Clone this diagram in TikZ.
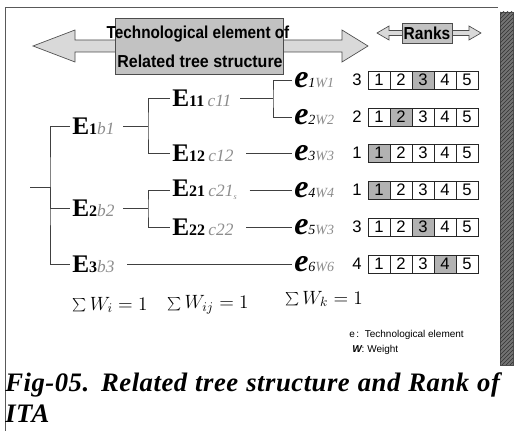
\documentclass[tikz,border=0pt]{standalone}
\usepackage{fontspec}
\setmainfont{Liberation Serif}
\setsansfont{Liberation Sans}
\newfontfamily\capfont[LetterSpace=2]{Liberation Serif}
\usetikzlibrary{patterns}

% font size helper and label pieces
\newcommand\fs[1]{\fontsize{#1}{#1}\selectfont}
\newcommand\Ebig{{\fs{19}\bfseries E}}
\newcommand\Enum[1]{{\fs{12}\bfseries #1}}
\newcommand\ghost[1]{{\color{black!45}\fs{13}\itshape #1}}
\newcommand\Tel[2]{{\fs{24}\bfseries\itshape e}{\fs{10.5}\itshape #1}{\color{black!45}\fs{10.5}\itshape W#2}}

\begin{document}
\begin{tikzpicture}[x=0.75pt,y=-0.75pt,
  treeline/.style={draw=black!75,line width=0.6pt},
  lbl/.style={anchor=west,inner sep=1.5pt},
  cell/.style={draw=black!85,line width=0.6pt,minimum width=16.5pt,
    minimum height=13.5pt,inner sep=0pt,font=\sffamily\fs{12.5}},
  ranknum/.style={font=\sffamily\fs{12.5},inner sep=0pt},
  shaft/.style={draw=black!70,line width=0.5pt,fill=black!15},
  tagbox/.style={draw=black!70,line width=0.5pt,fill=black!24,inner sep=0pt}]

\useasboundingbox (0,0) rectangle (519,431);
\fill[white] (0,0) rectangle (519,431);

% frame and side bar
\draw[black!65,line width=0.6pt] (5,431) -- (5,7) -- (498,7);
\draw[black!70,fill=black!55] (500,12) rectangle (513,365);
\fill[pattern=north east lines,pattern color=black!80] (500,12) rectangle (513,365);

% heading: double arrow with caption box
\draw[shaft] (33,46) -- (75,30) -- (75,40) -- (342,40) -- (342,30) -- (368,46)
  -- (342,62) -- (342,52) -- (75,52) -- (75,62) -- cycle;
\node[tagbox,minimum width=126pt,minimum height=42pt] (ttlbox) at (199,46) {};
\node[inner sep=0pt] (ttl1) at (198,34)
  {\resizebox{137pt}{\height}{\sffamily\bfseries\fs{13}Technological element of}};
\node[inner sep=0pt] (ttl2) at (200,61)
  {\resizebox{124pt}{\height}{\sffamily\bfseries\fs{13}Related tree structure}};

% ranks heading
\draw[shaft] (377,33) -- (389,26) -- (389,30.5) -- (469,30.5) -- (469,26) -- (481,33)
  -- (469,40) -- (469,35.5) -- (389,35.5) -- (389,40) -- cycle;
\node[tagbox,minimum width=37.5pt,minimum height=15pt] (rkbox) at (427,33) {};
\node[inner sep=0pt] (rktxt) at (427,33)
  {\resizebox{35pt}{\height}{\sffamily\bfseries\fs{13}Ranks}};

% tree elements
\node[lbl] (E1) at (70,126) {\Ebig\Enum{1}\ghost{b1}};
\node[lbl] (E2) at (70,208) {\Ebig\Enum{2}\ghost{b2}};
\node[lbl] (E3) at (70,264) {\Ebig\Enum{3}\ghost{b3}};
\node[lbl] (E11) at (170,98.5) {\Ebig\Enum{11}\ \ghost{c11}};
\node[lbl] (E12) at (170,153) {\Ebig\Enum{12}\ \ghost{c12}};
\node[lbl] (E21) at (170,190) {\Ebig\Enum{21}\ \ghost{c21}\raisebox{-2pt}{\color{black!45}\fs{6}\itshape s}};
\node[lbl] (E22) at (170,227) {\Ebig\Enum{22}\ \ghost{c22}};

\node[lbl] (e1) at (292,80) {\Tel{1}{1}};
\node[lbl] (e2) at (292,117) {\Tel{2}{2}};
\node[lbl] (e3) at (292,153) {\Tel{3}{3}};
\node[lbl] (e4) at (292,190) {\Tel{4}{4}};
\node[lbl] (e5) at (292,227) {\Tel{5}{3}};
\node[lbl] (e6) at (292,264) {\Tel{6}{6}};

% junctions
\coordinate (root) at (30,187);
\coordinate (j0) at (50,187);
\coordinate (j1) at (148,126);
\coordinate (j2) at (148,208);
\coordinate (j3) at (273,98.5);

% connectors
\draw[treeline] (root) -- (j0);
\draw[treeline] (E1.west) -| (j0) |- (E3.west);
\draw[treeline] (j0) |- (E2.west);
\draw[treeline,shorten <=5pt] (E1.east) -- (j1);
\draw[treeline] (E11.west) -| (j1) |- (E12.west);
\draw[treeline,shorten <=5pt] (E2.east) -- (j2);
\draw[treeline] (E21.west) -| (j2) |- (E22.west);
\draw[treeline,shorten <=5pt] (E11.east) -- (j3);
\draw[treeline] (e1.west) -| (j3) |- (e2.west);
\draw[treeline,shorten <=8pt] (E12.east) -- (e3.west);
\draw[treeline,shorten <=8pt] (E21.east) -- (e4.west);
\draw[treeline,shorten <=8pt] (E22.east) -- (e5.west);
\draw[treeline,shorten <=8pt] (E3.east) -- (e6.west);

% rank scales
\foreach \r/\y/\k in {1/80/3,2/117/2,3/153/1,4/190/1,5/227/3,6/264/4}{
  \node[ranknum] (rank\r) at (357,\y) {\k};
  \foreach \c in {1,...,5}{
    \pgfmathtruncatemacro\shd{ifthenelse(\c==\k,30,0)}
    \node[cell,fill=black!\shd] (cell\r-\c) at ({357+22*\c},\y) {\c};
  }
}

% weight sums
\node (sumi) at (110,305) {\fs{14.5}$\sum W_i = 1$};
\node (sumij) at (208,305) {\fs{14.5}$\sum W_{ij} = 1$};
\node (sumk) at (324,299) {\fs{14.5}$\sum W_k = 1$};

% legend
\node[anchor=west,inner sep=0pt] (lege) at (349,335)
  {\sffamily\fs{7.5}e\,:\ \ Technological element};
\node[anchor=west,inner sep=0pt] (legw) at (352,350)
  {\sffamily\fs{7.5}{\bfseries\itshape W}: Weight};

% figure caption
\node[anchor=west,inner sep=0pt] (cap1) at (5,385)
  {\capfont\bfseries\itshape\fs{20}\makebox[371pt][s]{Fig-05. Related tree structure and Rank of}};
\node[anchor=west,inner sep=0pt] (cap2) at (5,414)
  {\capfont\bfseries\itshape\fs{20}ITA};
\end{tikzpicture}
\end{document}
